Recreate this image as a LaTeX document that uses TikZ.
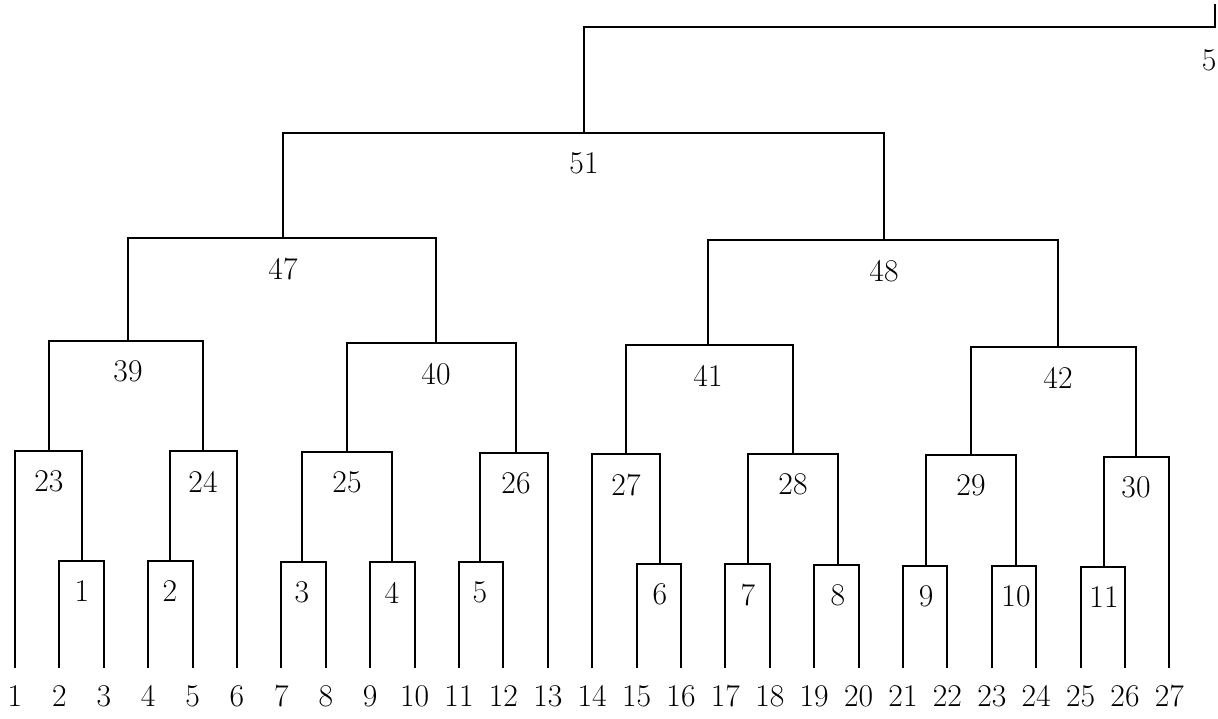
\documentclass[tikz,border=0pt]{standalone}
\usepackage{tikz}
\usetikzlibrary{positioning}

\begin{document}
\begin{tikzpicture}[x=0.02cm, y=-0.02cm, line width=1.2pt,
  lbl/.style={font=\fontsize{18}{21}\selectfont, inner sep=0pt}]
\useasboundingbox (0,0) rectangle (1218,718);

% Leaves
\foreach \i in {1,...,27} {
  \pgfmathsetmacro{\xx}{15+44.4*(\i-1)}
  \coordinate (l\i) at (\xx,668);
  \node[lbl, below=0.33cm of l\i] (n\i) {\i};
}

% First merges
\coordinate (c1) at (82,561);
\coordinate (c2) at (170,561);
\coordinate (c3) at (302,562);
\coordinate (c4) at (392,562);
\coordinate (c5) at (480,562);
\coordinate (c6) at (660,564);
\coordinate (c7) at (748,564);
\coordinate (c8) at (838,565);
\coordinate (c9) at (926,566);
\coordinate (c10) at (1016,566);
\coordinate (c11) at (1104,567);

% Second merges
\coordinate (c23) at (49,451);
\coordinate (c24) at (203,451);
\coordinate (c25) at (347,452);
\coordinate (c26) at (516,453);
\coordinate (c27) at (626,454);
\coordinate (c28) at (793,454);
\coordinate (c29) at (971,455);
\coordinate (c30) at (1136,457);

% Upper merges
\coordinate (c39) at (128,341);
\coordinate (c40) at (436,343);
\coordinate (c41) at (708,345);
\coordinate (c42) at (1058,347);
\coordinate (c47) at (283,238);
\coordinate (c48) at (884,240);
\coordinate (c51) at (584,133);
\coordinate (ctop) at (1215,27);
\coordinate (cend) at (1215,4);

% Labels
\foreach \k in {1,...,11,23,24,25,26,27,28,29,30,39,40,41,42,47,48,51}
  \node[lbl, below=0.38cm of c\k] (t\k) {\k};
\node[lbl] (tlast) at (1209,60) {5};

% Connections
\draw (l2) |- (c1) -| (l3);
\draw (l4) |- (c2) -| (l5);
\draw (l7) |- (c3) -| (l8);
\draw (l9) |- (c4) -| (l10);
\draw (l11) |- (c5) -| (l12);
\draw (l15) |- (c6) -| (l16);
\draw (l17) |- (c7) -| (l18);
\draw (l19) |- (c8) -| (l20);
\draw (l21) |- (c9) -| (l22);
\draw (l23) |- (c10) -| (l24);
\draw (l25) |- (c11) -| (l26);
\draw (l1) |- (c23) -| (c1);
\draw (c2) |- (c24) -| (l6);
\draw (c3) |- (c25) -| (c4);
\draw (c5) |- (c26) -| (l13);
\draw (l14) |- (c27) -| (c6);
\draw (c7) |- (c28) -| (c8);
\draw (c9) |- (c29) -| (c10);
\draw (c11) |- (c30) -| (l27);
\draw (c23) |- (c39) -| (c24);
\draw (c25) |- (c40) -| (c26);
\draw (c27) |- (c41) -| (c28);
\draw (c29) |- (c42) -| (c30);
\draw (c39) |- (c47) -| (c40);
\draw (c41) |- (c48) -| (c42);
\draw (c47) |- (c51) -| (c48);
\draw (c51) |- (ctop) -- (cend);
\end{tikzpicture}
\end{document}
